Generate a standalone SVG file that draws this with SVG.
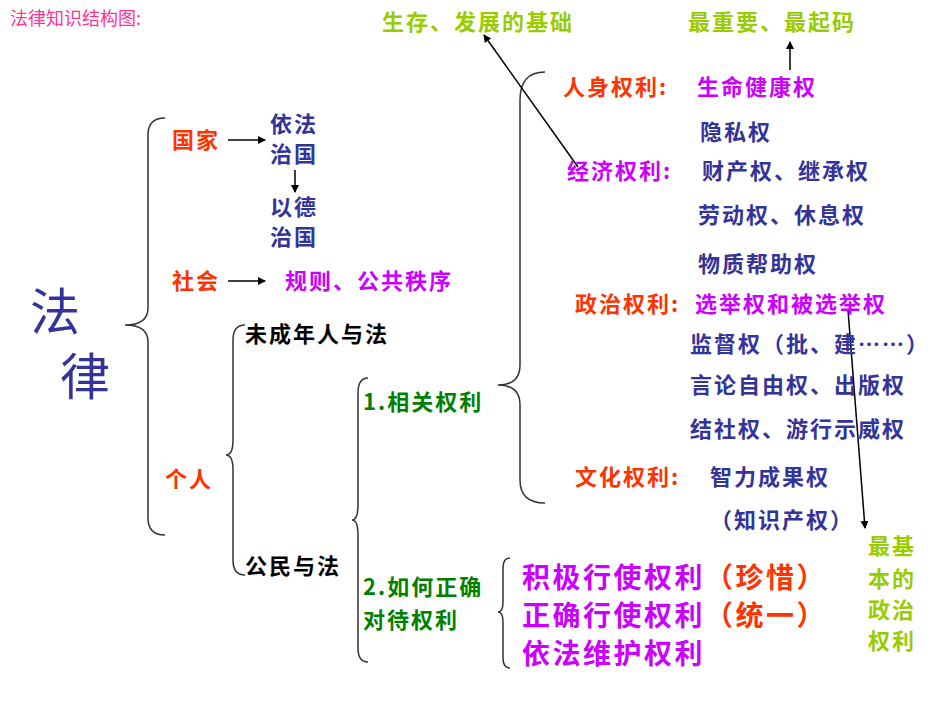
<svg xmlns="http://www.w3.org/2000/svg" width="950" height="713" viewBox="0 0 950 713">
<defs>
<marker id="ah" markerWidth="8" markerHeight="8" refX="7" refY="4" orient="auto" markerUnits="userSpaceOnUse"><path d="M0,0 L8,4 L0,8 z" fill="#000"/></marker>
<style>
text{font-family:"Noto Sans CJK SC","Liberation Sans",sans-serif;font-weight:bold;font-size:22px;letter-spacing:2px}
.r{fill:#ff3300}.m{fill:#cc00ff}.b{fill:#333399}.g{fill:#008000}.lg{fill:#99cc00}.k{fill:#000}
.br{fill:none;stroke:#333;stroke-width:1.5}
.ar{stroke:#000;stroke-width:1.5;fill:none;marker-end:url(#ah)}
.big{font-size:28px;letter-spacing:2.5px}
</style>
</defs>
<rect width="950" height="713" fill="#fff"/>
<text x="10" y="25" style="font-size:18px;font-weight:normal;fill:#ff3399;letter-spacing:0">法律知识结构图:</text>
<g id="connectors">
<path class="br" d="M165,118 Q148,118 148,135 L148,308 Q148,325 125,325 Q148,325 148,342 L148,518 Q148,535 165,535"/>
<path class="br" d="M245,325 Q233,325 233,340 L233,440 Q233,455 226,455 Q233,455 233,470 L233,560 Q233,575 245,575"/>
<path class="br" d="M368,378 Q358,378 358,393 L358,505 Q358,520 352,520 Q358,520 358,535 L358,648 Q358,662 368,662"/>
<path class="br" d="M545,72 Q520,72 520,100 L520,365 Q520,385 498,385 Q520,385 520,405 L520,480 Q520,503 545,503"/>
<path class="br" d="M510,558 Q503,558 503,568 L503,602 Q503,612 498,612 Q503,612 503,622 L503,658 Q503,668 510,668"/>
<line class="ar" x1="228" y1="140" x2="265" y2="140"/>
<line class="ar" x1="228" y1="281" x2="265" y2="281"/>
<line class="ar" x1="295" y1="170" x2="295" y2="192"/>
<line class="ar" x1="790" y1="70" x2="790" y2="42"/>
<line class="ar" x1="578" y1="167" x2="484" y2="35"/>
<line class="ar" x1="848" y1="310" x2="865" y2="528"/>
</g>
<g id="n-top"><text x="382" y="30" class="lg">生存、发展的基础</text><text x="688" y="30" class="lg">最重要、最起码</text></g>
<g id="n-fl"><text x="30" y="330" class="b" style="font-size:50px;font-weight:normal">法</text><text x="60" y="395" class="b" style="font-size:50px;font-weight:normal">律</text></g>
<g id="n-gj"><text x="172" y="148" class="r">国家</text><text x="270" y="132" class="b">依法</text><text x="270" y="162" class="b">治国</text><text x="270" y="215" class="b">以德</text><text x="270" y="245" class="b">治国</text></g>
<g id="n-sh"><text x="172" y="289" class="r">社会</text><text x="285" y="289" class="m">规则、公共秩序</text></g>
<g id="n-gr"><text x="165" y="487" class="r">个人</text><text x="245" y="342" class="k">未成年人与法</text><text x="245" y="574" class="k">公民与法</text></g>
<g id="n-xg"><text x="363" y="410" class="g">1.相关权利</text><text x="363" y="595" class="g">2.如何正确</text><text x="363" y="628" class="g">对待权利</text></g>
<g id="n-rs"><text x="563" y="95" class="r">人身权利:</text><text x="697" y="95" class="m">生命健康权</text><text x="700" y="140" class="b">隐私权</text></g>
<g id="n-jj"><text x="567" y="179" class="m">经济权利:</text><text x="702" y="179" class="b">财产权、继承权</text><text x="698" y="223" class="b">劳动权、休息权</text><text x="698" y="272" class="b">物质帮助权</text></g>
<g id="n-zz"><text x="575" y="312" class="r">政治权利:</text><text x="695" y="312" class="m">选举权和被选举权</text><text x="690" y="352" class="b">监督权（批、建……）</text><text x="690" y="393" class="b">言论自由权、出版权</text><text x="690" y="437" class="b">结社权、游行示威权</text></g>
<g id="n-wh"><text x="575" y="485" class="r">文化权利:</text><text x="710" y="485" class="b">智力成果权</text><text x="710" y="528" class="b">（知识产权）</text></g>
<g id="n-jb"><text x="868" y="554" class="lg">最基</text><text x="868" y="587" class="lg">本的</text><text x="868" y="618" class="lg">政治</text><text x="868" y="649" class="lg">权利</text></g>
<g id="n-dd"><text x="522" y="588" class="m big">积极行使权利<tspan class="r">（珍惜）</tspan></text><text x="522" y="626" class="m big">正确行使权利<tspan class="r">（统一）</tspan></text><text x="522" y="664" class="m big">依法维护权利</text></g>
</svg>
